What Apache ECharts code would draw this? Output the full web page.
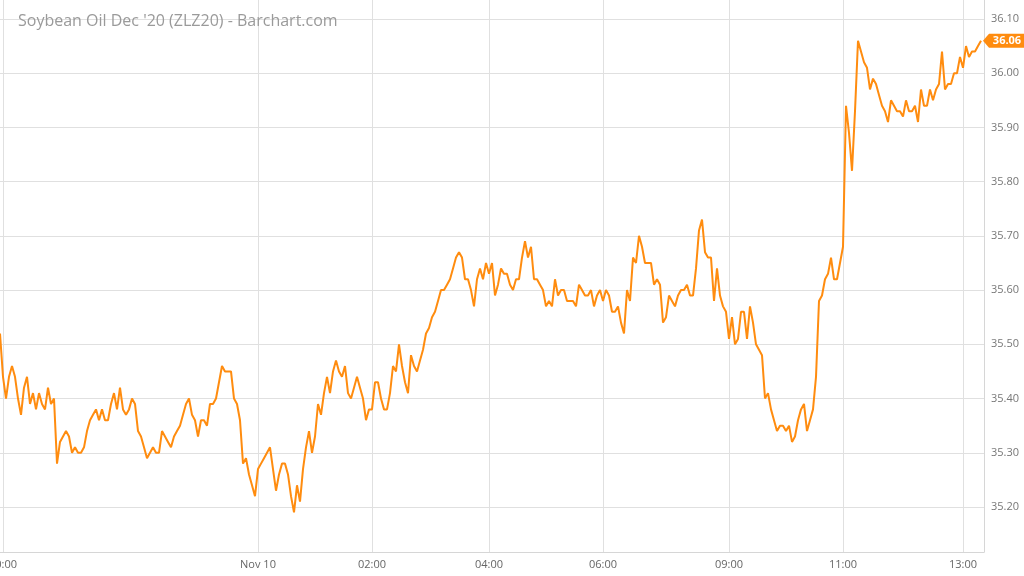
<!DOCTYPE html>
<html>
<head>
<meta charset="utf-8">
<script src="https://cdn.jsdelivr.net/npm/echarts@6/dist/echarts.min.js"></script>
<style>
html,body{margin:0;padding:0;background:#fff;}
#chart{width:1024px;height:576px;}
</style>
</head>
<body>
<div id="chart"></div>
<script>
var titleText = "Soybean Oil Dec '20 (ZLZ20) - Barchart.com";

// price samples (one per bar, left to right)
var prices = [
35.52,35.44,35.40,35.44,35.46,35.44,35.40,35.37,35.42,35.44,
35.39,35.41,35.38,35.41,35.39,35.38,35.42,35.39,35.40,35.28,
35.32,35.33,35.34,35.33,35.30,35.31,35.30,35.30,35.31,35.34,
35.36,35.37,35.38,35.36,35.38,35.36,35.36,35.39,35.41,35.38,
35.42,35.38,35.37,35.38,35.40,35.39,35.34,35.33,35.31,35.29,
35.30,35.31,35.30,35.30,35.34,35.33,35.32,35.31,35.33,35.34,
35.35,35.37,35.39,35.40,35.37,35.36,35.33,35.36,35.36,35.35,
35.39,35.39,35.40,35.43,35.46,35.45,35.45,35.45,35.40,35.39,
35.36,35.28,35.29,35.26,35.24,35.22,35.27,35.28,35.29,35.30,
35.31,35.27,35.23,35.26,35.28,35.28,35.26,35.22,35.19,35.24,
35.21,35.27,35.31,35.34,35.30,35.33,35.39,35.37,35.41,35.44,
35.41,35.45,35.47,35.45,35.44,35.46,35.41,35.40,35.42,35.44,
35.42,35.40,35.36,35.38,35.38,35.43,35.43,35.40,35.38,35.38,
35.41,35.46,35.45,35.50,35.46,35.43,35.41,35.48,35.46,35.45,
35.47,35.49,35.52,35.53,35.55,35.56,35.58,35.60,35.60,35.61,
35.62,35.64,35.66,35.67,35.66,35.62,35.62,35.60,35.57,35.62,
35.64,35.62,35.65,35.63,35.65,35.59,35.61,35.64,35.63,35.63,
35.61,35.60,35.62,35.62,35.66,35.69,35.66,35.68,35.62,35.62,
35.61,35.60,35.57,35.58,35.57,35.62,35.59,35.60,35.60,35.58,
35.58,35.58,35.57,35.61,35.60,35.59,35.59,35.60,35.57,35.59,
35.60,35.58,35.60,35.59,35.56,35.56,35.57,35.54,35.52,35.60,
35.58,35.66,35.65,35.70,35.68,35.65,35.65,35.65,35.61,35.62,
35.61,35.54,35.55,35.59,35.58,35.57,35.59,35.60,35.60,35.61,
35.59,35.59,35.64,35.71,35.73,35.67,35.66,35.66,35.58,35.64,
35.59,35.57,35.56,35.51,35.55,35.50,35.51,35.56,35.56,35.51,
35.57,35.54,35.50,35.49,35.48,35.40,35.41,35.38,35.36,35.34,
35.35,35.35,35.34,35.35,35.32,35.33,35.36,35.38,35.39,35.34,
35.36,35.38,35.44,35.58,35.59,35.62,35.63,35.66,35.62,35.62,
35.65,35.68,35.94,35.89,35.82,35.93,36.06,36.04,36.02,36.01,
35.97,35.99,35.98,35.96,35.94,35.93,35.91,35.95,35.94,35.93,
35.93,35.92,35.95,35.93,35.93,35.94,35.91,35.97,35.94,35.94,
35.97,35.95,35.97,35.98,36.04,35.97,35.98,35.98,36.00,36.00,
36.03,36.01,36.05,36.03,36.04,36.04,36.05,36.06
];

// time-axis tick labels and the bar index where each sits
var tickLabels = ['20:00','Nov 10','02:00','04:00','06:00','09:00','11:00','13:00'];
var tickIndex  = [1, 86, 124, 163, 201, 243, 281, 321];

// y-axis range
var yMin = 35.117, yMax = 36.135;

var categories = [];
for (var i = 0; i <= prices.length; i++) categories.push(String(i));
var tickMap = {};
tickIndex.forEach(function(ix, k){ tickMap[ix] = tickLabels[k]; });

var lastIdx = prices.length - 1;
var lastVal = prices[lastIdx];

var chart = echarts.init(document.getElementById('chart'), null, {renderer:'canvas'});
chart.setOption({
  animation: false,
  backgroundColor: '#fff',
  title: {
    text: titleText,
    left: 13, top: 8,
    textStyle: {fontFamily:'Open Sans', fontSize:16, fontWeight:'normal', color:'#9a9a9a'}
  },
  grid: {left: 0, right: 40, top: 0, bottom: 24, containLabel: false, outerBoundsMode: 'none'},
  xAxis: {
    type: 'category',
    data: categories,
    boundaryGap: false,
    axisLine: {show: true, lineStyle: {color: '#d6d6d6', width: 1}},
    axisTick: {show: false},
    axisLabel: {
      interval: function(index){ return tickMap.hasOwnProperty(index); },
      formatter: function(v, index){ return tickMap[index] || ''; },
      color: '#666', fontFamily: 'Open Sans', fontSize: 11, margin: 7
    },
    splitLine: {
      show: true,
      interval: function(index){ return tickMap.hasOwnProperty(index); },
      lineStyle: {color: '#e0e0e0', width: 1}
    }
  },
  yAxis: {
    type: 'value',
    position: 'right',
    min: yMin, max: yMax,
    splitNumber: 10,
    axisLine: {show: true, lineStyle: {color: '#d6d6d6', width: 1}},
    axisTick: {show: false},
    axisLabel: {
      showMinLabel: false, showMaxLabel: false,
      formatter: function(v){ return v.toFixed(2); },
      color: '#777', fontFamily: 'Open Sans', fontSize: 11, margin: 7
    },
    splitLine: {show: true, showMinLine: false, showMaxLine: false, lineStyle: {color: '#e0e0e0', width: 1}}
  },
  series: [{
    type: 'line',
    data: prices,
    showSymbol: false,
    symbol: 'none',
    lineStyle: {color: '#ff8c0f', width: 2},
    markPoint: {
      symbol: 'path://M0,7 L6,0 L42,0 L42,14 L6,14 Z',
      symbolSize: [42, 14],
      symbolOffset: [23, 0],
      itemStyle: {color: '#ff8c0f'},
      label: {
        show: true,
        formatter: function(p){ return Number(p.value).toFixed(2); },
        color: '#fff', fontWeight: 'bold', fontFamily: 'Open Sans', fontSize: 11,
        offset: [3, 0]
      },
      data: [{coord: [lastIdx, lastVal], value: lastVal}]
    }
  }]
});
</script>
</body>
</html>
